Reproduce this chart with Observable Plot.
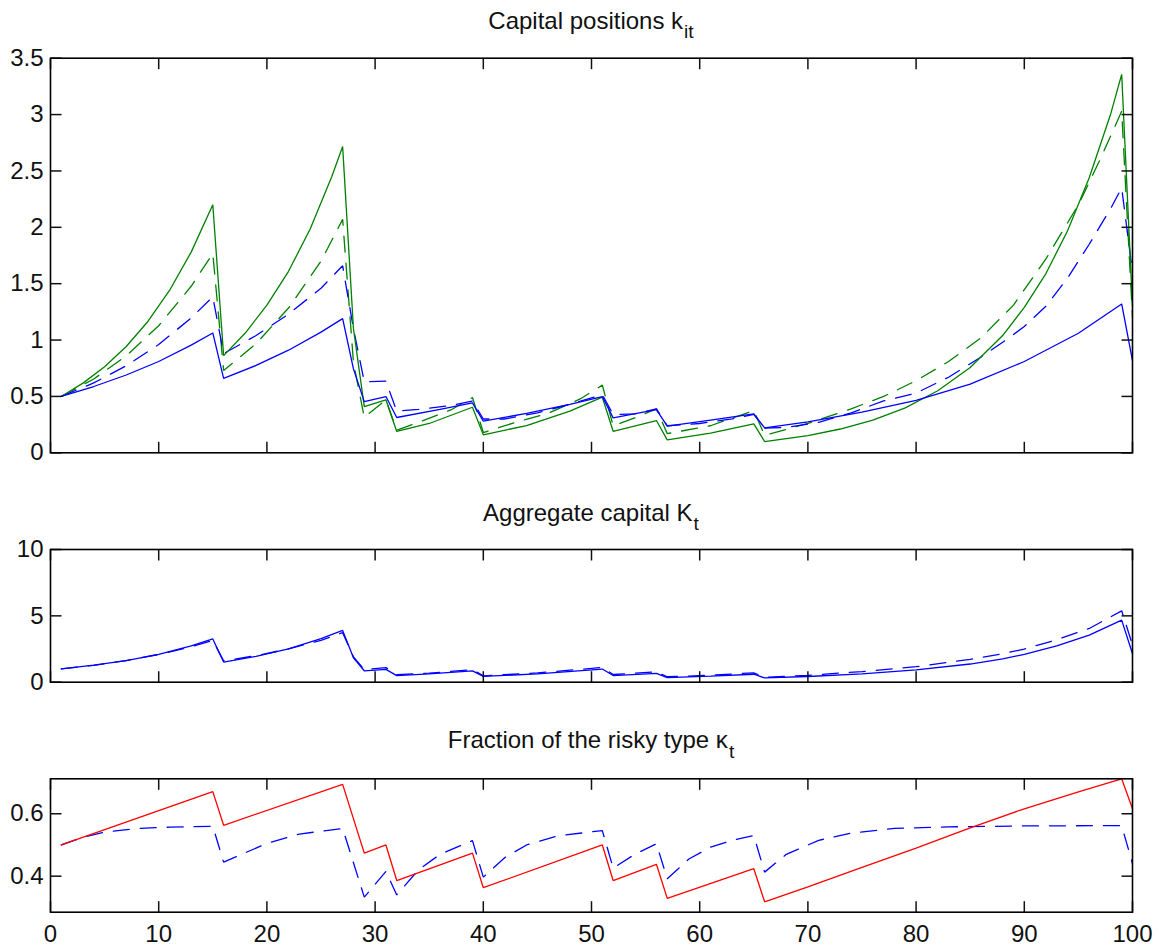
<!DOCTYPE html>
<html>
<head>
<meta charset="utf-8">
<script src="https://cdn.jsdelivr.net/npm/d3@7"></script>
<script src="https://cdn.jsdelivr.net/npm/@observablehq/plot@0.6"></script>
<style>
  html, body { margin: 0; padding: 0; background: white; }
  #wrap { position: relative; width: 1159px; height: 951px; overflow: hidden; background: white; }
  #wrap svg { position: absolute; left: 0; }
  .title { position: absolute; left: 50px; width: 1082px; text-align: center; font-family: "Liberation Sans", Arial, sans-serif; font-size: 24px; line-height: 1; color: #111; white-space: nowrap; }
  .title .sub { font-size: 0.8em; position: relative; top: 0.5em; margin-left: 1px; }
</style>
</head>
<body>
<div id="wrap"></div>
<script>
// ---------- x axis ----------
const xTicks = [0, 10, 20, 30, 40, 50, 60, 70, 80, 90, 100];

// ---------- Panel 1: capital positions k_it ----------
const kTicks = [0, 0.5, 1, 1.5, 2, 2.5, 3, 3.5];
// blue solid
const tSafe = [1,4,7,10,13,15,16,19,22,25,27,28,29,31,32,36,39,40,44,48,51,52,56,57,61,65,66,70,75,80,85,90,95,99,100];
const kSafe = [0.5,0.588,0.69,0.81,0.955,1.063,0.661,0.775,0.91,1.07,1.19,0.744,0.454,0.499,0.313,0.385,0.443,0.28,0.35,0.43,0.499,0.31,0.383,0.236,0.29,0.345,0.221,0.275,0.36,0.465,0.61,0.81,1.06,1.32,0.818];
// green solid
const tRisky = [1,3,5,7,9,11,13,15,16,18,20,22,24,26,27,28,29,31,32,35,39,40,44,48,51,52,56,57,61,65,66,70,73,76,79,82,85,88,90,92,94,96,98,99,100];
const kRisky = [0.5,0.618,0.763,0.943,1.165,1.44,1.78,2.2,0.862,1.062,1.31,1.61,1.985,2.45,2.716,1.1,0.41,0.47,0.189,0.26,0.404,0.159,0.242,0.37,0.493,0.191,0.286,0.115,0.175,0.257,0.1,0.153,0.211,0.29,0.399,0.55,0.757,1.04,1.29,1.59,1.97,2.44,3.01,3.357,1.3];
// blue dashed
const tSafeAlt = [1,4,7,10,13,15,16,19,22,25,27,28,29,31,32,34,37,39,40,42,45,48,51,52,54,56,57,60,63,65,66,68,71,74,77,80,83,86,88,90,92,94,96,98,99,100];
const kSafeAlt = [0.5,0.62,0.772,0.96,1.196,1.384,0.88,1.04,1.23,1.46,1.659,1.1,0.63,0.635,0.37,0.385,0.42,0.46,0.3,0.3,0.355,0.43,0.516,0.34,0.345,0.39,0.24,0.26,0.3,0.34,0.22,0.225,0.27,0.355,0.46,0.53,0.67,0.85,0.98,1.12,1.3,1.55,1.85,2.17,2.35,1.6];
// green dashed
const tRiskyAlt = [1,4,7,10,13,15,16,19,22,25,27,28,29,31,32,34,37,39,40,43,46,49,51,52,54,56,57,61,65,66,70,74,77,80,83,86,89,92,95,97,99,100];
const kRiskyAlt = [0.5,0.655,0.86,1.127,1.477,1.768,0.73,0.968,1.284,1.70,2.07,0.8,0.315,0.47,0.2,0.27,0.38,0.49,0.18,0.27,0.35,0.48,0.6,0.24,0.31,0.39,0.17,0.24,0.375,0.155,0.26,0.39,0.5,0.64,0.81,1.02,1.31,1.72,2.2,2.6,3.03,1.2];

// ---------- Panel 2: aggregate capital K_t ----------
const KTicks = [0, 5, 10];
const tAgg = [1,4,7,10,13,15,16,19,22,25,27,28,29,31,32,35,39,40,45,51,52,56,57,61,65,66,70,75,80,85,88,90,93,96,99,100];
const KSolid = [1.0,1.28,1.63,2.1,2.73,3.26,1.52,1.95,2.52,3.29,3.9,1.84,0.86,0.97,0.5,0.62,0.85,0.44,0.62,0.99,0.5,0.67,0.35,0.46,0.6,0.32,0.43,0.62,0.93,1.37,1.75,2.1,2.73,3.55,4.68,2.14];
const KDashed = [1.0,1.275,1.63,2.09,2.67,3.15,1.61,2.0,2.51,3.16,3.73,1.9,0.945,1.1,0.57,0.68,0.95,0.48,0.7,1.11,0.58,0.78,0.41,0.52,0.71,0.375,0.52,0.8,1.17,1.72,2.15,2.5,3.2,4.05,5.38,2.8];

// ---------- Panel 3: fraction of the risky type kappa_t ----------
const fracTicks = [0.4, 0.6];
const tFrac = [1,15,16,27,29,31,32,39,40,51,52,56,57,65,66,70,75,80,85,90,95,99,100];
const fracSolid = [0.5,0.671,0.563,0.694,0.474,0.5,0.386,0.474,0.363,0.5,0.386,0.438,0.329,0.424,0.318,0.366,0.428,0.49,0.555,0.616,0.67,0.712,0.616];
const tFracAlt = [1,3,5,8,11,15,16,18,20,23,27,29,31,32,34,36,39,40,42,44,47,51,52,54,56,57,59,61,63,65,66,68,71,74,78,83,90,99,100];
const fracDashed = [0.5,0.525,0.541,0.553,0.557,0.56,0.445,0.475,0.505,0.535,0.553,0.333,0.415,0.34,0.42,0.47,0.514,0.397,0.46,0.5,0.53,0.546,0.426,0.47,0.504,0.392,0.455,0.493,0.515,0.53,0.413,0.47,0.515,0.538,0.553,0.558,0.561,0.562,0.44];

// ---------- helpers ----------
const rows = (ts, vs) => ts.map((t, i) => ({t, v: vs[i]}));
const BLUE = "#0000ff", GREEN = "#008000", RED = "#ff0000";
const DASH = "16,11";
const FONT = "'Liberation Sans', Arial, sans-serif";
const TICK = 11;
const W = 1159, ML = 50, MR = 27;
const X_DOMAIN = [0, 100];

function line(ts, vs, color, dashed) {
  return Plot.line(rows(ts, vs), {
    x: "t", y: "v", stroke: color, strokeWidth: 1.3,
    strokeDasharray: dashed ? DASH : null, strokeLinejoin: "miter"
  });
}

// tick segments as small data tables built from the tick arrays
function tickSegments(xTicksArr, yTicksArr, yDomain, pw, ph) {
  const [x0, x1] = X_DOMAIN, [y0, y1] = yDomain;
  const tx = (x1 - x0) * TICK / pw;
  const ty = (y1 - y0) * TICK / ph;
  const segs = [];
  for (const v of yTicksArr) {
    segs.push({xa: x0, xb: x0 + tx, ya: v, yb: v});
    segs.push({xa: x1, xb: x1 - tx, ya: v, yb: v});
  }
  for (const v of xTicksArr) {
    segs.push({xa: v, xb: v, ya: y0, yb: y0 + ty});
    segs.push({xa: v, xb: v, ya: y1, yb: y1 - ty});
  }
  return segs;
}

function panel({height, marginTop, marginBottom, yDomain, yTicks, yFormat, showX, lines}) {
  const pw = W - ML - MR;
  const ph = height - marginTop - marginBottom;
  const segs = tickSegments(xTicks, yTicks, yDomain, pw, ph);
  return Plot.plot({
    width: W, height, marginLeft: ML, marginRight: MR, marginTop, marginBottom,
    style: {fontFamily: FONT, fontSize: "24px", color: "#111", background: "white"},
    x: {domain: X_DOMAIN, label: null, axis: null},
    y: {domain: yDomain, label: null, axis: null},
    marks: [
      // tick labels
      Plot.axisY(yTicks, {anchor: "left", tickSize: 0, tickPadding: 7, tickFormat: yFormat, label: null, fontSize: 24}),
      ...(showX ? [Plot.axisX(xTicks, {anchor: "bottom", tickSize: 0, tickPadding: 13, tickFormat: d => String(d), label: null, fontSize: 24})] : []),
      ...lines,
      // inward tick marks on all four sides
      Plot.link(segs, {x1: "xa", y1: "ya", x2: "xb", y2: "yb", stroke: "#111", strokeWidth: 1.5}),
      Plot.frame({stroke: "#000", strokeWidth: 1.6})
    ]
  });
}

const wrap = document.getElementById("wrap");

const p1 = panel({
  height: 470, marginTop: 57.7, marginBottom: 17.7,
  yDomain: [0, 3.5], yTicks: kTicks, yFormat: d => String(d), showX: false,
  lines: [
    line(tRiskyAlt, kRiskyAlt, GREEN, true),
    line(tSafeAlt, kSafeAlt, BLUE, true),
    line(tRisky, kRisky, GREEN, false),
    line(tSafe, kSafe, BLUE, false)
  ]
});
p1.style.top = "0px";
wrap.appendChild(p1);

const p2 = panel({
  height: 230, marginTop: 79, marginBottom: 18.3,
  yDomain: [0, 10], yTicks: KTicks, yFormat: d => String(d), showX: false,
  lines: [
    line(tAgg, KDashed, BLUE, true),
    line(tAgg, KSolid, BLUE, false)
  ]
});
p2.style.top = "470px";
wrap.appendChild(p2);

const p3 = panel({
  height: 251, marginTop: 78.3, marginBottom: 39.3,
  yDomain: [0.2846, 0.712], yTicks: fracTicks, yFormat: d => d.toFixed(1), showX: true,
  lines: [
    line(tFracAlt, fracDashed, BLUE, true),
    line(tFrac, fracSolid, RED, false)
  ]
});
p3.style.top = "700px";
wrap.appendChild(p3);

// titles
const titles = [
  {top: 8.8, html: 'Capital positions k<span class="sub">it</span>'},
  {top: 500.5, html: 'Aggregate capital K<span class="sub">t</span>'},
  {top: 728.2, html: 'Fraction of the risky type \u03ba<span class="sub">t</span>'}
];
for (const t of titles) {
  const d = document.createElement("div");
  d.className = "title";
  d.style.top = t.top + "px";
  d.innerHTML = t.html;
  wrap.appendChild(d);
}
</script>
</body>
</html>
